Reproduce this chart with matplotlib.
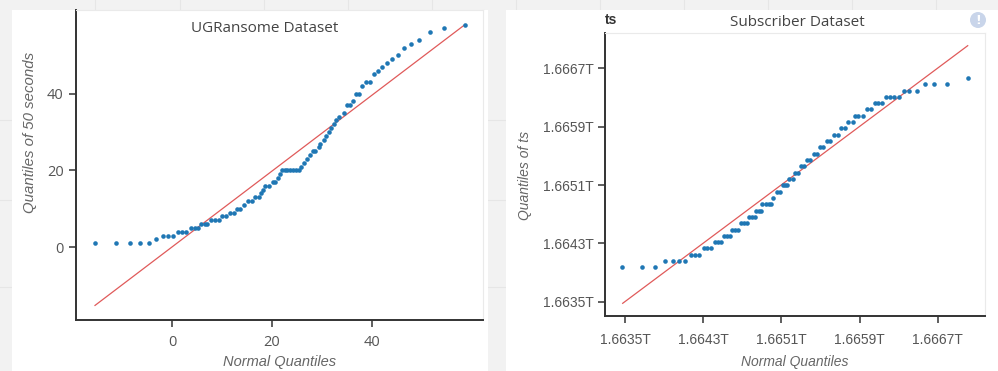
import matplotlib
matplotlib.use("Agg")
import matplotlib.pyplot as plt
from matplotlib.patches import Rectangle, Ellipse
from matplotlib.lines import Line2D
from matplotlib.ticker import FuncFormatter

# ---- UGRansome: QQ points (normal quantile, sample quantile) ----
ug_x = [-15.5, -11.2, -8.4, -6.5, -4.7,
        -3.3,
        -1.9, -0.9, 0.2,
        1.1, 1.9, 2.7,
        3.7, 4.5, 5.1,
        5.8, 6.5, 7.0,
        7.7, 8.5, 9.3,
        9.9, 10.8,
        11.5, 12.3,
        12.9, 13.6,
        14.4,
        15.1, 15.9,
        16.6, 17.3,
        17.8,
        18.2,
        18.6, 19.4,
        20.1, 20.6,
        21.1,
        21.6,
        21.9, 22.5, 23.0, 23.6, 24.1, 24.7, 25.3,
        25.7, 26.3, 26.9, 27.5, 28.1, 28.6, 29.3, 29.6, 30.3, 30.7,
        31.3, 31.7, 32.3, 32.8, 33.4, 34.3, 34.9, 35.5, 36.1, 36.7,
        37.3, 38.0, 38.7, 39.5, 40.3, 41.1, 42.0, 42.9, 43.9, 45.1,
        46.3, 47.7, 49.4, 51.5, 54.3, 58.6]
ug_y = [1, 1, 1, 1, 1,
        2,
        3, 3, 3,
        4, 4, 4,
        5, 5, 5,
        6, 6, 6,
        7, 7, 7,
        8, 8,
        9, 9,
        10, 10,
        11,
        12, 12,
        13, 13,
        14,
        15,
        16, 16,
        17, 17,
        18,
        19,
        20, 20, 20, 20, 20, 20, 20,
        21, 22, 23, 24, 25, 25, 26, 27, 28, 29,
        30, 31, 32, 33, 34, 35, 37, 37, 38, 40,
        40, 42, 43, 43, 45, 46, 47, 48, 49, 50,
        52, 53, 54, 56, 57, 58]
ug_line_x = [-15.4, 58.6]
ug_line_y = [-15.2, 58.0]
ug_ticks = [0, 20, 40]

# ---- Subscriber: ts quantiles, in units of 1e12 (T) ----
ts_x = [1.663469, 1.663677, 1.663807,
        1.663906, 1.663988, 1.664056, 1.664114,
        1.664172, 1.664216, 1.664260,
        1.664308, 1.664342, 1.664380,
        1.664421, 1.664455, 1.664482,
        1.664516, 1.664547, 1.664574,
        1.664598, 1.664629, 1.664653,
        1.664684, 1.664714, 1.664748,
        1.664772, 1.664802, 1.664827,
        1.664840, 1.664871, 1.664888,
        1.664905, 1.664939, 1.664970, 1.664990,
        1.665011,
        1.665052, 1.665086,
        1.665113, 1.665137, 1.665160,
        1.665181, 1.665216,
        1.665239, 1.665273,
        1.665300, 1.665331,
        1.665359, 1.665393,
        1.665433, 1.665467,
        1.665495, 1.665529,
        1.665563, 1.665597,
        1.665641, 1.665682,
        1.665710, 1.665751,
        1.665785, 1.665830,
        1.665853, 1.665887, 1.665938,
        1.665973, 1.666017,
        1.666058, 1.666092, 1.666126,
        1.666170, 1.666211, 1.666255, 1.666300,
        1.666354, 1.666409, 1.666484,
        1.666569, 1.666664, 1.666797,
        1.667006]
ts_y = [1.663972] * 3 + [1.664058] * 4 + [1.664145] * 3 + [1.664233] * 3 \
    + [1.664319] * 3 + [1.664406] * 3 + [1.664488] * 3 + [1.664576] * 3 \
    + [1.664662] * 3 + [1.664749] * 3 + [1.664836] * 4 + [1.664923] \
    + [1.665010] * 2 + [1.665097] * 3 + [1.665183] * 2 + [1.665270] * 2 \
    + [1.665357] * 2 + [1.665444] * 2 + [1.665531] * 2 + [1.665618] * 2 \
    + [1.665705] * 2 + [1.665792] * 2 + [1.665879] * 2 + [1.665966] * 2 \
    + [1.666052] * 3 + [1.666139] * 2 + [1.666226] * 3 + [1.666309] * 4 \
    + [1.666395] * 3 + [1.666483] * 3 + [1.666570]
ts_line_x = [1.663476, 1.667007]
ts_line_y = [1.663478, 1.667010]
ts_ticks = [1.6635, 1.6643, 1.6651, 1.6659, 1.6667]

W, H = 998, 371
fig = plt.figure(figsize=(W / 100, H / 100), dpi=100)
fig.patch.set_facecolor("#f2f2f2")

# faint dashboard grid behind the panels
for gx in [95, 180, 264, 348, 432, 516, 600, 684, 768, 852, 936]:
    fig.add_artist(Line2D([gx / W, gx / W], [0, 1], color="#e6e6e6", lw=0.8, zorder=-20))
for gy in [120, 200, 287]:
    fig.add_artist(Line2D([0, 1], [1 - gy / H, 1 - gy / H], color="#e6e6e6", lw=0.8, zorder=-20))

# white panels
fig.add_artist(Rectangle((12 / W, 0), (488 - 12) / W, 1 - 10 / H, transform=fig.transFigure,
                         facecolor="white", edgecolor="none", zorder=-10))
fig.add_artist(Rectangle((506 / W, 0), (998 - 506) / W, 1 - 10 / H, transform=fig.transFigure,
                         facecolor="white", edgecolor="none", zorder=-10))

blue = "#1f77b4"
red = "#e05a5a"


def style_axes(ax):
    ax.set_facecolor("white")
    for side in ["left", "bottom"]:
        ax.spines[side].set_color("#333333")
        ax.spines[side].set_linewidth(1.4)
    for side in ["top", "right"]:
        ax.spines[side].set_color("#eaeaea")
        ax.spines[side].set_linewidth(0.8)
    ax.tick_params(direction="out", length=5, width=1.1, color="#333333",
                   labelcolor="#555555", top=False, right=False)


# ---- left panel ----
ax1 = fig.add_axes([76 / W, 1 - 320 / H, (483 - 76) / W, (320 - 10) / H])
style_axes(ax1)
ax1.plot(ug_line_x, ug_line_y, color=red, lw=0.9, zorder=2)
ax1.plot(ug_x, ug_y, "o", color=blue, ms=3.3, mew=0, zorder=3)
ax1.set_xlim(-19.2, 62.2)
ax1.set_ylim(-19.0, 61.8)
ax1.set_xticks(ug_ticks)
ax1.set_yticks(ug_ticks)
for lab in ax1.get_xticklabels() + ax1.get_yticklabels():
    lab.set_fontfamily("Open Sans")
    lab.set_fontsize(10.5)
ax1.tick_params(axis="x", pad=6)
ax1.tick_params(axis="y", pad=4)

fig.text(265 / W, 1 - 28 / H, "UGRansome Dataset", ha="center", va="center",
         fontsize=11, family="Open Sans", color="#444444")
fig.text(30 / W, 1 - 132 / H, "Quantiles of 50 seconds", rotation=90, ha="center",
         va="center", fontsize=10.8, family="Liberation Sans", style="italic", color="#666666")
fig.text(280 / W, 1 - 362 / H, "Normal Quantiles", ha="center", va="center",
         fontsize=10.5, family="Liberation Sans", style="italic", color="#666666")

# ---- right panel ----
ax2 = fig.add_axes([605 / W, 1 - 316 / H, (985 - 605) / W, (316 - 33) / H])
style_axes(ax2)
ax2.plot(ts_line_x, ts_line_y, color=red, lw=0.9, zorder=2)
ax2.plot(ts_x, ts_y, "o", color=blue, ms=3.3, mew=0, zorder=3)
ax2.set_xlim(1.663295, 1.667184)
ax2.set_ylim(1.663304, 1.667184)
ax2.set_xticks(ts_ticks)
ax2.set_yticks(ts_ticks)
fmt = FuncFormatter(lambda v, p: f"{v:.4f}T")
ax2.xaxis.set_major_formatter(fmt)
ax2.yaxis.set_major_formatter(fmt)
for lab in ax2.get_xticklabels() + ax2.get_yticklabels():
    lab.set_fontfamily("Liberation Sans")
    lab.set_fontsize(10)
ax2.tick_params(axis="x", pad=7)
ax2.tick_params(axis="y", pad=3)

fig.text(797 / W, 1 - 22 / H, "Subscriber Dataset", ha="center", va="center",
         fontsize=11, family="Open Sans", color="#444444")
fig.text(611 / W, 1 - 20 / H, "ts", ha="center", va="center",
         fontsize=10, family="Liberation Sans", weight="bold", color="#333333")
fig.text(525 / W, 1 - 175 / H, "Quantiles of ts", rotation=90, ha="center",
         va="center", fontsize=10, family="Liberation Sans", style="italic", color="#666666")
fig.text(795 / W, 1 - 362 / H, "Normal Quantiles", ha="center", va="center",
         fontsize=10, family="Liberation Sans", style="italic", color="#666666")

# info icon
fig.add_artist(Ellipse((978 / W, 1 - 20 / H), 16 / W, 16 / H, transform=fig.transFigure,
                       facecolor="#c9d5ea", edgecolor="none"))
fig.text(978 / W, 1 - 20 / H, "!", ha="center", va="center", fontsize=9,
         weight="bold", color="white", family="DejaVu Sans")

fig.savefig("out.png", dpi=100, facecolor=fig.get_facecolor())
